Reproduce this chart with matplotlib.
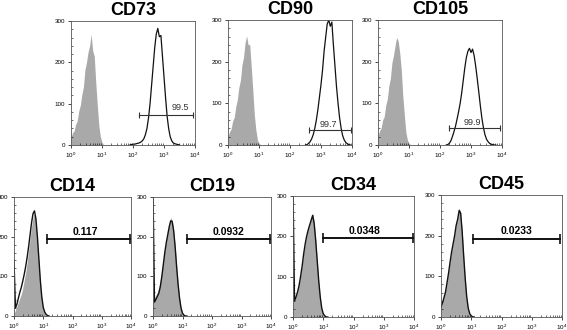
#flow.py
#flow cytometry histograms, isotype (grey) vs marker (black outline)
import matplotlib.pyplot as plt
import numpy as np
from matplotlib.ticker import LogLocator, MultipleLocator

plt.rcParams['font.family'] = ['Liberation Sans', 'DejaVu Sans']

step = 0.05  #bin width in decades

#top row: positive markers
top_names = ["CD73", "CD90", "CD105"]
top_iso = [
    [18, 30, 34, 50, 58, 82, 96, 122, 140, 182, 200, 225, 240, 268, 228, 215, 150, 95, 45, 20, 6, 1, 0],
    [20, 32, 38, 58, 66, 92, 108, 138, 155, 192, 210, 245, 262, 240, 242, 188, 132, 72, 36, 12, 4, 1, 0],
    [22, 34, 40, 60, 68, 95, 110, 142, 160, 198, 215, 238, 258, 250, 222, 182, 118, 72, 30, 12, 4, 1, 0],
]
top_start = [1.9, 2.5, 2.2]  #log10 of first bin of stained sample
top_stain = [
    [0, 1, 2, 2, 3, 4, 5, 7, 10, 15, 25, 40, 65, 100, 145, 190, 235, 268, 282, 262, 265, 215,
     165, 115, 70, 40, 20, 10, 5, 3, 2, 1, 0],
    [0, 1, 4, 8, 15, 25, 40, 60, 85, 115, 145, 180, 225, 258, 290, 300, 285, 295, 240, 190,
     140, 100, 65, 40, 22, 12, 6, 3, 1, 0],
    [0, 1, 4, 10, 20, 32, 45, 62, 80, 100, 125, 155, 185, 210, 225, 232, 222, 230, 215, 190,
     160, 128, 95, 65, 42, 25, 14, 8, 4, 2, 1, 0, 0],
]
top_gate = [(155, 8700, 73), (410, 9300, 36), (195, 8700, 41)]
top_pct = ["99.5", "99.7", "99.9"]
top_pct_xy = [(3340, 90), (1700, 50), (1070, 55)]

#bottom row: negative markers
bot_names = ["CD14", "CD19", "CD34", "CD45"]
bot_iso = [
    [5, 15, 25, 35, 45, 55, 70, 90, 110, 135, 165, 195, 225, 248, 258, 240, 195, 140, 85, 45, 20, 8, 3, 1, 0],
    [40, 45, 52, 60, 72, 90, 115, 140, 168, 192, 212, 232, 248, 242, 218, 178, 128, 82, 46, 22, 8, 3, 1, 0],
    [35, 42, 52, 64, 80, 102, 128, 158, 182, 202, 218, 232, 245, 258, 236, 192, 140, 88, 48, 20, 7, 2, 0, 0],
    [28, 38, 52, 68, 90, 112, 138, 162, 182, 202, 228, 245, 268, 258, 212, 150, 92, 48, 20, 7, 2, 0, 0],
]
bot_stain = [
    [141, 20, 30, 45, 60, 72, 88, 105, 125, 148, 175, 205, 235, 258, 265, 245, 200, 145, 90, 48, 22, 10, 4, 1, 0],
    [320, 35, 42, 50, 58, 75, 100, 130, 160, 185, 205, 225, 240, 238, 215, 175, 125, 80, 45, 20, 7, 2, 0, 0],
    [320, 40, 50, 62, 78, 100, 125, 155, 180, 200, 215, 228, 240, 252, 232, 190, 140, 90, 50, 22, 8, 3, 0, 0],
    [25, 35, 48, 62, 85, 108, 135, 160, 180, 200, 225, 240, 262, 255, 210, 150, 95, 50, 22, 8, 3, 0, 0],
]
bot_gate = [(13.5, 9300, 194), (14, 9300, 194), (9.8, 9300, 195), (11.5, 8500, 192)]
bot_pct = ["0.117", "0.0932", "0.0348", "0.0233"]
bot_pct_x = [270, 350, 240, 320]
bot_pct_y = 212

#axes boxes in pixels: left, right, top, bottom
W, H = 567, 330
top_box = [(71, 195, 21, 145), (228, 352, 20, 145), (378, 502, 20, 145)]
bot_box = [(14, 131, 197, 316), (153, 271, 197, 316), (293, 414, 196, 317), (441, 562, 195, 317)]

grey = "#a9a9a9"


def make_ax(fig, box, title):
    l, r, t, b = box
    ax = fig.add_axes([l / W, 1 - b / H, (r - l) / W, (b - t) / H])
    ax.set_xscale("log")
    ax.set_xlim(1, 1e4)
    ax.set_ylim(0, 300)
    ax.set_yticks([0, 100, 200, 300])
    ax.yaxis.set_minor_locator(MultipleLocator(20))
    ax.xaxis.set_major_locator(LogLocator(base=10, numticks=5))
    ax.xaxis.set_minor_locator(LogLocator(base=10, subs=np.arange(2, 10), numticks=10))
    ax.tick_params(which="major", direction="out", length=2.5, width=0.5, labelsize=4.5, pad=1.5)
    ax.tick_params(which="minor", direction="in", length=1.5, width=0.4)
    for s in ax.spines.values():
        s.set_linewidth(0.6)
        s.set_color("#555555")
    ax.set_title(title, fontsize=13, fontweight="bold", pad=4)
    return ax


def draw_hist(ax, start, counts, fill=False, lw=1.0):
    x = 10 ** (start + step * np.arange(len(counts)))
    if fill:
        ax.fill_between(x, counts, 0, color=grey, lw=0)
    else:
        ax.plot(x, counts, color="#111111", lw=lw)


fig = plt.figure(figsize=(W / 100, H / 100), dpi=100)

for i in range(3):
    ax = make_ax(fig, top_box[i], top_names[i])
    draw_hist(ax, 0, top_iso[i], fill=True)
    draw_hist(ax, top_start[i], top_stain[i], lw=0.9)
    lo, hi, y = top_gate[i]
    ax.plot([lo, hi], [y, y], color="#333333", lw=0.8, marker="|", ms=5, mew=0.8)
    ax.text(top_pct_xy[i][0], top_pct_xy[i][1], top_pct[i], fontsize=6.5,
            color="#333333", ha="center", va="center")

for i in range(4):
    ax = make_ax(fig, bot_box[i], bot_names[i])
    draw_hist(ax, 0, bot_iso[i], fill=True)
    draw_hist(ax, 0, bot_stain[i], lw=1.0)
    lo, hi, y = bot_gate[i]
    ax.plot([lo, hi], [y, y], color="#111111", lw=1.4, marker="|", ms=6.5, mew=1.2)
    ax.text(bot_pct_x[i], bot_pct_y, bot_pct[i], fontsize=7.5, fontweight="bold",
            ha="center", va="center")

fig.savefig("out.png", dpi=100)
